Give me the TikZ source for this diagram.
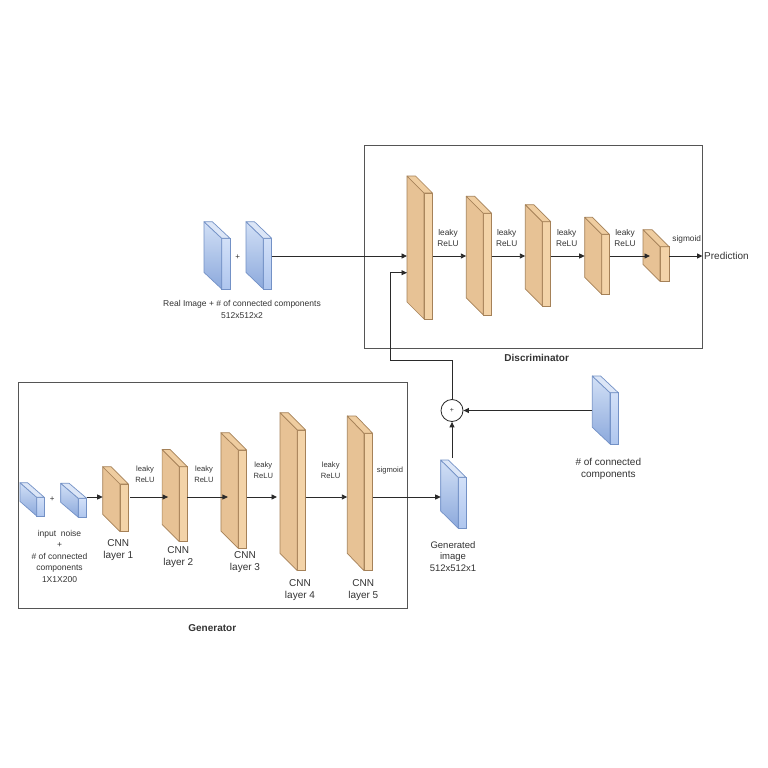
\documentclass[tikz,border=0pt]{standalone}
\usepackage{fontspec}
\setmainfont{Liberation Sans}
\usetikzlibrary{arrows.meta,calc}
\definecolor{cTanSide}{HTML}{E7C295}
\definecolor{cTanFront}{HTML}{F3D3A8}
\definecolor{cTanTop}{HTML}{EFCDA0}
\definecolor{cTanEdge}{HTML}{A58158}
\definecolor{cBlueLt}{HTML}{D2E0F6}
\definecolor{cBlueDk}{HTML}{8CA9DC}
\definecolor{cBlueFrLt}{HTML}{D2E0F8}
\definecolor{cBlueFrDk}{HTML}{AFC6EE}
\definecolor{cBlueTop}{HTML}{DCE6F7}
\definecolor{cBlueEdge}{HTML}{7391C6}
\definecolor{cTxt}{HTML}{333333}
\definecolor{cLine}{HTML}{2A2A2A}
\definecolor{cFrame}{HTML}{555555}
\newcommand\cubeblk[8]{%
  \node[#8front, minimum width=#4pt, minimum height=#5pt, anchor=north west] (#1) at (#2,#3) {};
  \path[#8side] (#1.north west) -- ++(-#6,-#7) -- ++(0,#5) -- (#1.south west) -- cycle;
  \path[#8top] (#1.north west) -- ++(-#6,-#7) -- ++(#4,0) -- (#1.north east) -- cycle;
  \path (#1.north west) ++(-#6,-#7) coordinate (#1-b);
}
\tikzset{
  tanfront/.style={draw=cTanEdge, fill=cTanFront, line width=0.7pt, inner sep=0pt, outer sep=0pt},
  tanside/.style={draw=cTanEdge, fill=cTanSide, line width=0.7pt, line join=round},
  tantop/.style={draw=cTanEdge, fill=cTanTop, line width=0.7pt, line join=round},
  bluefront/.style={draw=cBlueEdge, top color=cBlueFrLt, bottom color=cBlueFrDk, line width=0.7pt, inner sep=0pt, outer sep=0pt},
  blueside/.style={draw=cBlueEdge, top color=cBlueLt, bottom color=cBlueDk, line width=0.7pt, line join=round},
  bluetop/.style={draw=cBlueEdge, fill=cBlueTop, line width=0.7pt, line join=round},
  arr/.style={draw=cLine, line width=0.9pt, -{Triangle[length=5.5pt,width=5pt]}},
  frame/.style={draw=cFrame, line width=0.9pt},
  txt/.style={text=cTxt, align=center, inner sep=0pt},
  lblD/.style={txt, font=\fontsize{8.3}{11}\selectfont},
  lblG/.style={txt, font=\fontsize{7.6}{11}\selectfont},
  cnn/.style={txt, font=\fontsize{10}{11.8}\selectfont},
  note/.style={txt, font=\fontsize{8.5}{11.5}\selectfont},
  big/.style={txt, font=\fontsize{9.8}{11.7}\selectfont},
  ttl/.style={txt, font=\bfseries\fontsize{10}{12}\selectfont},
}
\begin{document}
\begin{tikzpicture}[x=1pt,y=-1pt]
\useasboundingbox[fill=white] (0,0) rectangle (768,768);
% frames
\draw[frame] (364,145) rectangle (702.3,348.5);
\draw[frame] (18.3,382.7) rectangle (407.3,608.3);
% row coordinates
\coordinate (rowD) at (0,256);
\coordinate (rowF) at (0,272.7);
\coordinate (rowG) at (0,497);
\coordinate (fb) at (390,360);
% discriminator blocks
\cubeblk{D1}{424}{193}{8.5}{126}{17}{17}{tan}
\cubeblk{D2}{483.3}{213.3}{8.4}{101.7}{17}{17}{tan}
\cubeblk{D3}{542.3}{221.7}{8.4}{84.3}{17}{17}{tan}
\cubeblk{D4}{601.7}{234.3}{7.8}{60}{17}{17}{tan}
\cubeblk{D5}{660}{246.7}{9}{34.6}{17}{17}{tan}
% generator blocks
\cubeblk{G1}{120}{484}{8.3}{47.7}{17.3}{17.3}{tan}
\cubeblk{G2}{179.3}{466.7}{8}{75}{17.2}{17.3}{tan}
\cubeblk{G3}{238.3}{450}{8.4}{98.3}{17.4}{17.3}{tan}
\cubeblk{G4}{297.3}{430}{8.4}{140.7}{17.3}{17.3}{tan}
\cubeblk{G5}{364}{433.3}{8.7}{137.4}{16.7}{17.3}{tan}
% blue blocks
\cubeblk{R1}{221.7}{238.3}{8.3}{50.7}{17.7}{16.6}{blue}
\cubeblk{R2}{263.3}{238.3}{8.4}{50.7}{17.3}{16.6}{blue}
\cubeblk{CC}{610}{392.7}{8.3}{51.3}{17.7}{16.7}{blue}
\cubeblk{GI}{458.3}{477.3}{7.7}{51}{17.6}{17.3}{blue}
\cubeblk{I1}{36.7}{497.3}{7.6}{18.7}{16.7}{14.6}{blue}
\cubeblk{I2}{78.3}{498.3}{8.4}{19}{17.6}{15}{blue}
% sum circle
\node[circle, draw=cLine, line width=0.8pt, minimum size=22pt, inner sep=0pt, font=\fontsize{7}{8}\selectfont, text=cTxt] (circ) at (452,410.5) {+};
% discriminator arrows
\draw[arr] (R2.east |- rowD) -- (D1-b |- rowD);
\draw[arr] (D1.east |- rowD) -- (D2-b |- rowD);
\draw[arr] (D2.east |- rowD) -- (D3-b |- rowD);
\draw[arr] (D3.east |- rowD) -- (D4-b |- rowD);
\draw[arr] (D4.east |- rowD) -- ([xshift=7pt]D5-b |- rowD);
\coordinate (pred) at (702.5,256);
\draw[arr] (D5.east |- rowD) -- (pred);
\draw[arr] (circ.north) |- (fb) |- (D1-b |- rowF);
% generator arrows
\draw[arr] (I2.east |- rowG) -- (G1-b |- rowG);
\draw[arr] ([xshift=2pt]G1.east |- rowG) -- ([xshift=6pt]G2-b |- rowG);
\draw[arr] (G2.east |- rowG) -- ([xshift=7pt]G3-b |- rowG);
\draw[arr] (G3.east |- rowG) -- ([xshift=-3pt]G4-b |- rowG);
\draw[arr] (G4.east |- rowG) -- (G5-b |- rowG);
\draw[arr] (G5.east |- rowG) -- (GI-b |- rowG);
% to sum
\draw[arr] (CC-b |- circ) -- (circ.east);
\draw[arr] ([yshift=2pt]circ |- GI-b) -- (circ.south);
% texts discriminator side
\node[note, font=\fontsize{8}{9}\selectfont] (plusR) at (237.7,256.7) {+};
\node[note] (realtxt) at (242,309.5) {Real Image + \# of connected components\\512x512x2};
\node[lblD] (lr1) at (448,238.5) {leaky\\ReLU};
\node[lblD] (lr2) at (506.7,238.5) {leaky\\ReLU};
\node[lblD] (lr3) at (566.7,238.5) {leaky\\ReLU};
\node[lblD] (lr4) at (625,238.5) {leaky\\ReLU};
\node[lblD] (sgD) at (686.7,239) {sigmoid};
\node[big, anchor=west, font=\fontsize{10}{12}\selectfont] (predtxt) at (704,256) {Prediction};
\node[ttl] (dtitle) at (536.7,358.3) {Discriminator};
\node[big, font=\fontsize{10}{11.7}\selectfont] (cctxt) at (608.3,469.2) {\# of connected\\components};
\node[big, font=\fontsize{9.5}{11.6}\selectfont] (gitxt) at (453,556.5) {Generated\\image\\512x512x1};
% texts generator side
\node[note, font=\fontsize{8}{9}\selectfont] (plusI) at (52.3,499) {+};
\node[note] (intxt) at (59.5,556) {input\ \ noise\\+\\\# of connected\\components\\1X1X200};
\node[lblG] (g1) at (145,473.8) {leaky\\ReLU};
\node[lblG] (g2) at (204,473.8) {leaky\\ReLU};
\node[lblG] (g3) at (263.3,470.2) {leaky\\ReLU};
\node[lblG] (g4) at (330.7,470.2) {leaky\\ReLU};
\node[lblG] (sgG) at (390,470.7) {sigmoid};
\node[cnn] (c1) at (118.3,550.2) {CNN\\layer 1};
\node[cnn] (c2) at (178.3,557.2) {CNN\\layer 2};
\node[cnn] (c3) at (245,561.9) {CNN\\layer 3};
\node[cnn] (c4) at (300,590.4) {CNN\\layer 4};
\node[cnn] (c5) at (363.3,590.4) {CNN\\layer 5};
\node[ttl] (gtitle) at (212.3,628.3) {Generator};
\end{tikzpicture}
\end{document}
